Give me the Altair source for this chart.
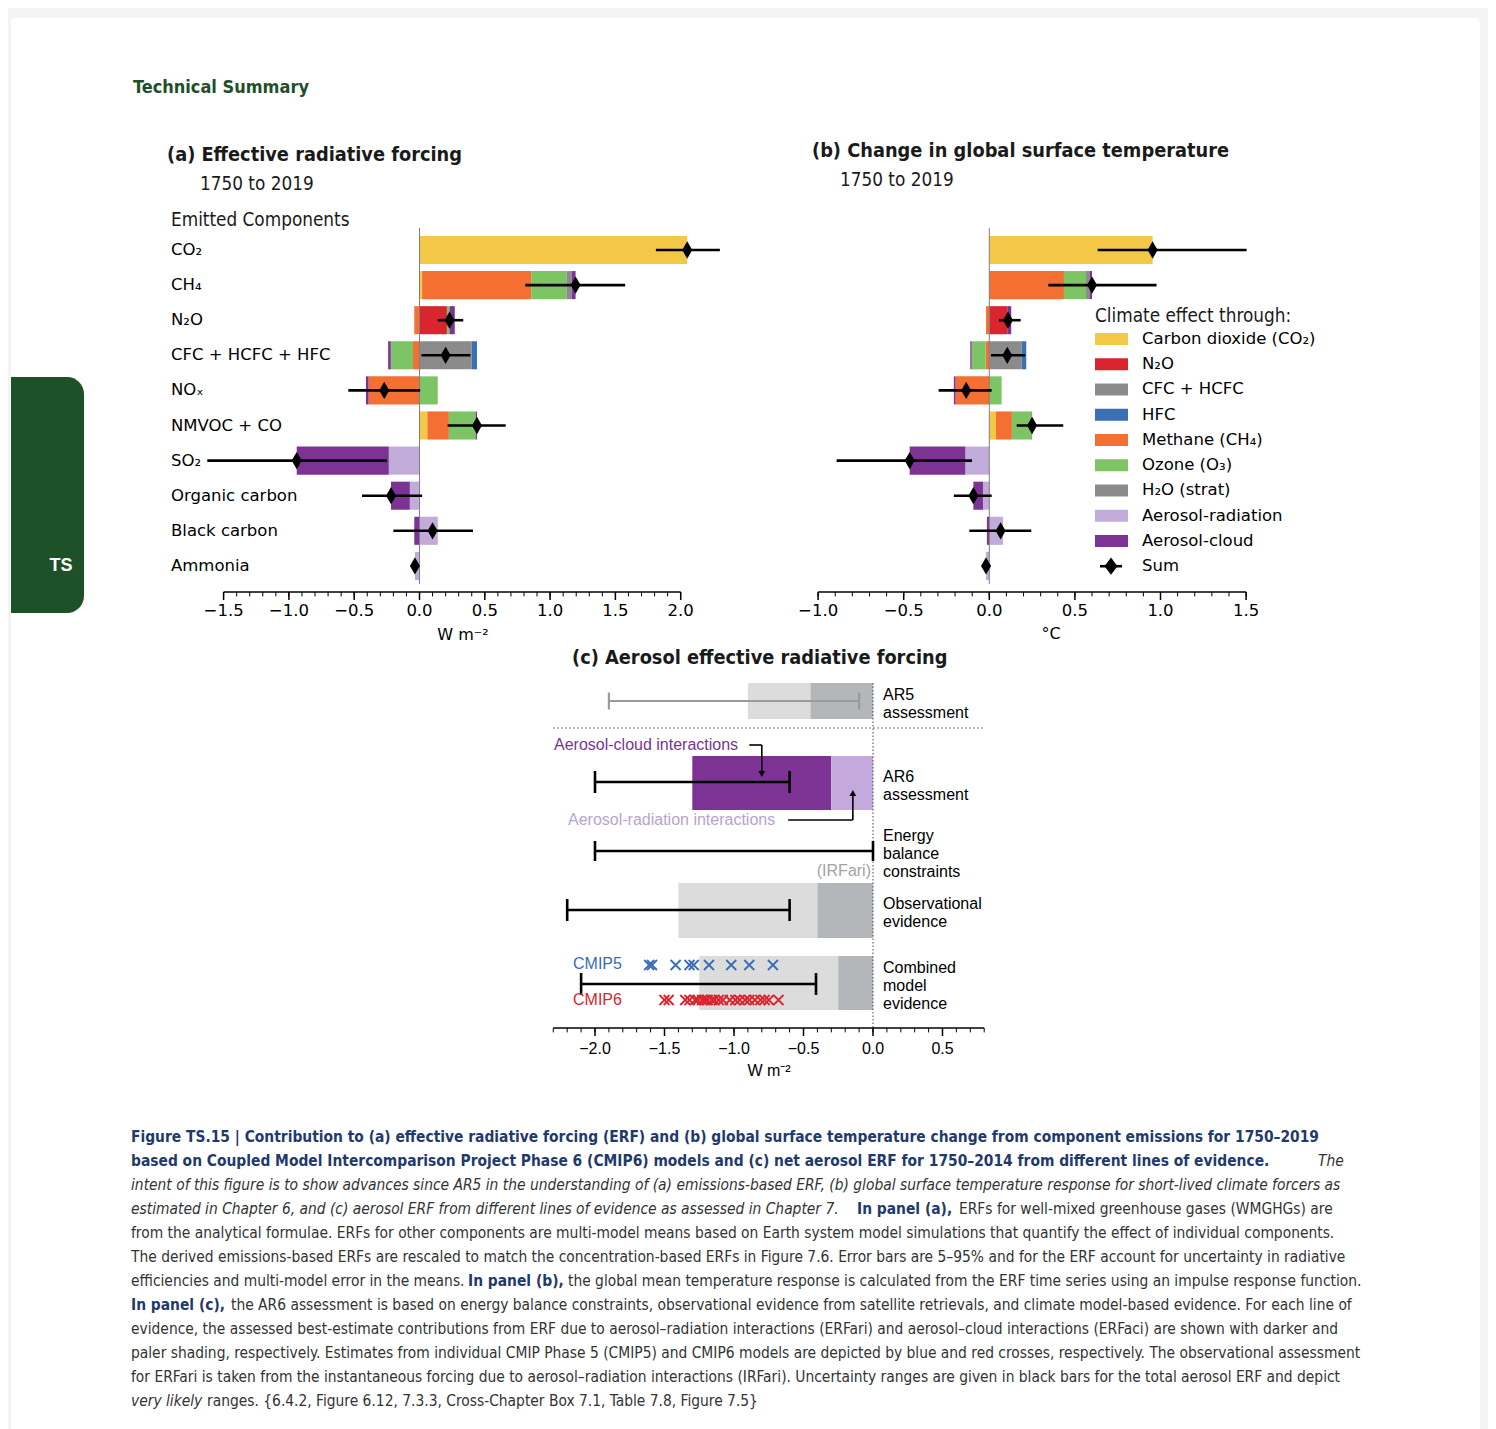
import altair as alt
import pandas as pd

W, H = 1480, 1421


def P(v):
    """page pixel -> chart pixel (8px page margin)"""
    return v - 8


NARROW = "DejaVu Sans Condensed, DejaVu Sans, sans-serif"
DEJAVU = "DejaVu Sans"
ARIAL = "Liberation Sans, Arial, sans-serif"
DIAMOND = "M0,-1L0.58,0L0,1L-0.58,0Z"
DIAMOND_LEG = "M0,-1L0.75,0L0,1L-0.75,0Z"
XCROSS = "M-1,-1L1,1M-1,1L1,-1"

# ---------------------------------------------------------------- data
rows_a = ["CO₂", "CH₄", "N₂O", "CFC + HCFC + HFC", "NOₓ", "NMVOC + CO",
          "SO₂", "Organic carbon", "Black carbon", "Ammonia"]

effects = ["Carbon dioxide (CO₂)", "N₂O", "CFC + HCFC", "HFC", "Methane (CH₄)",
           "Ozone (O₃)", "H₂O (strat)", "Aerosol-radiation", "Aerosol-cloud"]
effect_colors = ["#f3c846", "#d9252e", "#8b8b8b", "#3b6fb6", "#f36f32",
                 "#7dc465", "#8b8b8b", "#c0abd9", "#7c3393"]

# (a) ERF, W m-2, per climate effect, rows in rows_a order
erf_co2 = [2.05, 0.02, 0, 0, 0, 0.06, 0, 0, 0, 0]
erf_n2o = [0, 0, 0.21, 0, 0, 0, 0, 0, 0, 0]
erf_cfc = [0, 0, 0, 0.40, 0, 0, 0, 0, 0, 0]
erf_hfc = [0, 0, 0, 0.04, 0, 0, 0, 0, 0, 0]
erf_ch4 = [0, 0.835, -0.04, -0.05, -0.39, 0.165, 0, 0, 0, 0]
erf_o3 = [0, 0.27, 0.02, -0.17, 0.14, 0.205, 0, 0, 0, 0]
erf_h2o = [0, 0.04, 0, 0, 0, 0, 0, 0, 0, 0]
erf_ari = [0, 0, 0, 0, 0, 0, -0.235, -0.074, 0.14, -0.035]
erf_aci = [0, 0.03, 0.04, -0.02, -0.02, 0.01, -0.705, -0.144, -0.04, 0]
erf_lo = [1.81, 0.81, 0.14, 0.015, -0.545, 0.215, -1.625, -0.44, -0.20, -0.04]
erf_hi = [2.30, 1.575, 0.335, 0.39, 0.005, 0.66, -0.25, 0.02, 0.41, -0.03]

# (b) temperature change, deg C
dt_co2 = [0.954, 0, 0, 0, 0, 0.039, 0, 0, 0, 0]
dt_n2o = [0, 0, 0.105, 0, 0, 0, 0, 0, 0, 0]
dt_cfc = [0, 0, 0, 0.189, 0, 0, 0, 0, 0, 0]
dt_hfc = [0, 0, 0, 0.027, 0, 0, 0, 0, 0, 0]
dt_ch4 = [0, 0.436, -0.019, -0.021, -0.197, 0.093, 0, 0, 0, 0]
dt_o3 = [0, 0.129, 0, -0.082, 0.072, 0.115, 0, 0, 0, 0]
dt_h2o = [0, 0.023, 0, 0, 0, 0, 0, 0, 0, 0]
dt_ari = [0, 0, 0, 0, 0, 0, -0.14, -0.037, 0.08, -0.019]
dt_aci = [0, 0.012, 0.023, -0.008, -0.01, 0.003, -0.325, -0.056, -0.014, 0]
dt_lo = [0.633, 0.345, 0.056, 0.01, -0.296, 0.16, -0.892, -0.207, -0.117, -0.022]
dt_hi = [1.503, 0.977, 0.183, 0.21, 0.014, 0.432, -0.101, 0.014, 0.245, -0.012]

a_ticks = [-1.5, -1.0, -0.5, 0.0, 0.5, 1.0, 1.5, 2.0]
b_ticks = [-1.0, -0.5, 0.0, 0.5, 1.0, 1.5]
c_ticks = [-2.0, -1.5, -1.0, -0.5, 0.0, 0.5]
a_minor = [round(-1.5 + 0.1 * i, 1) for i in range(36)]
b_minor = [round(-1.0 + 0.1 * i, 1) for i in range(26)]
c_minor = [round(-2.3 + 0.1 * i, 1) for i in range(32)]

# (c) aerosol ERF
c_labels = ["AR5\nassessment", "AR6\nassessment", "Energy\nbalance\nconstraints",
            "Observational\nevidence", "Combined\nmodel\nevidence"]
c_total = [-0.9, -1.3, None, -1.4, -1.25]
c_ari = [-0.45, -0.3, None, -0.4, -0.25]
c_lo = [-1.9, -2.0, -2.0, -2.2, -2.1]
c_hi = [-0.1, -0.6, 0.0, -0.6, -0.41]
cmip5 = [-1.61, -1.59, -1.42, -1.32, -1.29, -1.18, -1.02, -0.89, -0.72]
cmip6 = [-1.50, -1.47, -1.35, -1.32, -1.28, -1.26, -1.23, -1.21, -1.19, -1.16,
         -1.14, -1.11, -1.08, -1.03, -0.99, -0.96, -0.92, -0.89, -0.85, -0.81,
         -0.78, -0.75, -0.68]

# ---------------------------------------------------------------- layout (page px)
ROW_TOP, ROW_BOT = 232.45, 583.45
AX_AB = 592
AX_C = 1028
A_ZERO, A_K = 419.5, 130.6
B_ZERO, B_K = 989.3, 171.2
C_ZERO, C_K = 873.0, 139.0
C_ROW_Y = [701, 783, 851, 910.5, 983]
C_BAR_HALF = [18, 27, 0, 27.5, 27]
C_ERR_Y = [701, 782, 851, 910, 984]
C_CAP_HALF = [8.5, 11, 10, 11, 11]
C_LABEL_Y = [695, 777, 836, 904, 968]   # first line of each label
CMIP_Y = [965, 1000]

one = pd.DataFrame({"d": [0]})


def fmt(v):
    return f"{v:.1f}".replace("-", "−")


def texts(rows, font, size, color, weight="normal", style="normal", align="left",
          baseline="middle", **kw):
    df = pd.DataFrame([{"px": P(x), "py": P(y), "txt": t} for (x, y, t) in rows])
    return alt.Chart(df).mark_text(
        font=font, fontSize=size, color=color, fontWeight=weight, fontStyle=style,
        align=align, baseline=baseline, **kw
    ).encode(
        x=alt.X("px:Q", scale=None, axis=None),
        y=alt.Y("py:Q", scale=None, axis=None),
        text="txt:N",
    )


def x_axis_layers(xs, ticks, minor, ax_y, xmin, xmax, font, size, tick_len, lab_gap):
    """axis line, major/minor ticks and tick labels drawn through the panel's x scale"""
    dom = alt.Chart(pd.DataFrame({"a": [xmin], "b": [xmax]})).mark_rule(
        color="black", strokeWidth=1.5).encode(
        x=alt.X("a:Q", scale=xs, axis=None), x2="b:Q", y=alt.value(P(ax_y)))
    tk = pd.DataFrame({"t": ticks, "lab": [fmt(v) for v in ticks]})
    maj = alt.Chart(tk).mark_rule(color="black", strokeWidth=1.5).encode(
        x=alt.X("t:Q", scale=xs, axis=None), y=alt.value(P(ax_y)),
        y2=alt.value(P(ax_y) + tick_len))
    mnr = alt.Chart(pd.DataFrame({"t": minor})).mark_rule(color="black", strokeWidth=1).encode(
        x=alt.X("t:Q", scale=xs, axis=None), y=alt.value(P(ax_y)),
        y2=alt.value(P(ax_y) + tick_len * 0.55))
    lab = alt.Chart(tk).mark_text(font=font, fontSize=size, color="black", align="center",
                                  baseline="top").encode(
        x=alt.X("t:Q", scale=xs, axis=None), y=alt.value(P(ax_y) + tick_len + lab_gap),
        text="lab:N")
    return [dom, maj, mnr, lab]


def stack_df(comps):
    recs = []
    for i, row in enumerate(rows_a):
        pos, neg = 0.0, 0.0
        for j, eff in enumerate(effects):
            v = comps[j][i]
            if v > 0:
                recs.append(dict(row=row, eff=eff, x0=pos, x1=pos + v, color=effect_colors[j]))
                pos += v
            elif v < 0:
                recs.append(dict(row=row, eff=eff, x0=neg, x1=neg + v, color=effect_colors[j]))
                neg += v
    return pd.DataFrame(recs)


def forcing_panel(comps, lo, hi, zero_px, k, xmin, xmax, major, minor, with_labels):
    xs = alt.Scale(domain=[xmin, xmax], range=[P(zero_px + xmin * k), P(zero_px + xmax * k)],
                   nice=False, zero=False)
    ys = alt.Scale(domain=rows_a, range=[P(ROW_TOP), P(ROW_BOT)], paddingInner=0.2,
                   paddingOuter=0.1)
    seg = stack_df(comps)
    tot = [sum(c[i] for c in comps) for i in range(len(rows_a))]
    summ = pd.DataFrame({"row": rows_a, "s": tot, "lo": lo, "hi": hi})
    bars = alt.Chart(seg).mark_bar(strokeWidth=0).encode(
        x=alt.X("x0:Q", scale=xs, axis=None),
        x2="x1:Q",
        y=alt.Y("row:N", scale=ys, axis=None),
        color=alt.Color("color:N", scale=None),
    )
    zero = alt.Chart(pd.DataFrame({"z": [0.0]})).mark_rule(color="#7f7f7f", strokeWidth=1).encode(
        x=alt.X("z:Q", scale=xs, axis=None), y=alt.value(P(228)), y2=alt.value(P(584)))
    err = alt.Chart(summ).mark_rule(color="black", strokeWidth=2.6).encode(
        x=alt.X("lo:Q", scale=xs, axis=None), x2="hi:Q",
        y=alt.Y("row:N", scale=ys, axis=None))
    dia = alt.Chart(summ).mark_point(shape=DIAMOND, filled=True, size=300, color="black",
                                     opacity=1, strokeWidth=0).encode(
        x=alt.X("s:Q", scale=xs, axis=None), y=alt.Y("row:N", scale=ys, axis=None))
    layers = [bars, zero, err, dia] + x_axis_layers(xs, major, minor, AX_AB, xmin, xmax,
                                                    DEJAVU, 16.5, 8, 2.5)
    if with_labels:
        lab = alt.Chart(pd.DataFrame({"row": rows_a})).mark_text(
            align="left", baseline="middle", font=DEJAVU, fontSize=16.5, color="black").encode(
            x=alt.value(P(171)), y=alt.Y("row:N", scale=ys, axis=None), text="row:N")
        layers.append(lab)
    return alt.layer(*layers)


panel_a = forcing_panel([erf_co2, erf_n2o, erf_cfc, erf_hfc, erf_ch4, erf_o3, erf_h2o, erf_ari, erf_aci],
                        erf_lo, erf_hi, A_ZERO, A_K, -1.5, 2.0, a_ticks, a_minor, True)
panel_b = forcing_panel([dt_co2, dt_n2o, dt_cfc, dt_hfc, dt_ch4, dt_o3, dt_h2o, dt_ari, dt_aci],
                        dt_lo, dt_hi, B_ZERO, B_K, -1.0, 1.5, b_ticks, b_minor, False)

# ---------------- legend of (b)
leg_items = effects + ["Sum"]
ys_leg = alt.Scale(domain=leg_items, range=[P(333.0), P(572.2)], paddingInner=0.525, paddingOuter=0)
leg_sw = alt.Chart(pd.DataFrame({"item": effects, "color": effect_colors})).mark_rect().encode(
    x=alt.value(P(1095)), x2=alt.value(P(1128)),
    y=alt.Y("item:N", scale=ys_leg, axis=None), color=alt.Color("color:N", scale=None))
leg_tx = alt.Chart(pd.DataFrame({"item": leg_items})).mark_text(
    align="left", baseline="middle", font=DEJAVU, fontSize=16.5, color="black").encode(
    x=alt.value(P(1142)), y=alt.Y("item:N", scale=ys_leg, axis=None), text="item:N")
leg_sum_line = alt.Chart(pd.DataFrame({"item": ["Sum"]})).mark_rule(color="black", strokeWidth=2.6).encode(
    x=alt.value(P(1100)), x2=alt.value(P(1122)), y=alt.Y("item:N", scale=ys_leg, axis=None))
leg_sum_dia = alt.Chart(pd.DataFrame({"item": ["Sum"]})).mark_point(
    shape=DIAMOND_LEG, filled=True, size=300, color="black", opacity=1, strokeWidth=0).encode(
    x=alt.value(P(1111)), y=alt.Y("item:N", scale=ys_leg, axis=None))
legend_b = alt.layer(leg_sw, leg_tx, leg_sum_line, leg_sum_dia)

# ---------------- panel (c)
xs_c = alt.Scale(domain=[-2.3, 0.8], range=[P(C_ZERO - 2.3 * C_K), P(C_ZERO + 0.8 * C_K)],
                 nice=False, zero=False)
ys_c = alt.Scale(domain=[600, 1100], range=[P(600), P(1100)], nice=False, zero=False)
LG, DG = "#dcdcdc", "#b4b7b9"
PUR, LPUR = "#7c3393", "#c3a9dc"

rects = []
for i in range(len(c_labels)):
    if c_total[i] is None:
        continue
    c1, c2 = (PUR, LPUR) if i == 1 else (LG, DG)
    y0, y1 = C_ROW_Y[i] - C_BAR_HALF[i], C_ROW_Y[i] + C_BAR_HALF[i]
    rects.append(dict(x0=c_total[i], x1=c_ari[i], y0=y0, y1=y1, color=c1))
    rects.append(dict(x0=c_ari[i], x1=0.0, y0=y0, y1=y1, color=c2))
rects = pd.DataFrame(rects)

errs, caps = [], []
for i in range(len(c_labels)):
    col = "#9a9a9a" if i == 0 else "black"
    w = 2.2 if i == 0 else 2.6
    errs.append(dict(lo=c_lo[i], hi=c_hi[i], y=C_ERR_Y[i], color=col, w=w))
    for xv in (c_lo[i], c_hi[i]):
        caps.append(dict(x=xv, y0=C_ERR_Y[i] - C_CAP_HALF[i], y1=C_ERR_Y[i] + C_CAP_HALF[i], color=col, w=w))
errs, caps = pd.DataFrame(errs), pd.DataFrame(caps)

crosses = pd.DataFrame(
    [dict(x=v, y=CMIP_Y[0], color="#3b6cb4") for v in cmip5]
    + [dict(x=v, y=CMIP_Y[1], color="#d8262f") for v in cmip6])

arrows = pd.DataFrame([
    dict(x0=-0.89, x1=-0.80, y0=745, y1=745),
    dict(x0=-0.80, x1=-0.80, y0=745, y1=771),
    dict(x0=-0.61, x1=-0.145, y0=820, y1=820),
    dict(x0=-0.145, x1=-0.145, y0=820, y1=796),
])
heads = pd.DataFrame([dict(x=-0.80, y=774, shape="triangle-down"),
                      dict(x=-0.145, y=793, shape="triangle-up")])

c_bars = alt.Chart(rects).mark_rect(strokeWidth=0).encode(
    x=alt.X("x0:Q", scale=xs_c, axis=None),
    x2="x1:Q",
    y=alt.Y("y0:Q", scale=ys_c, axis=None), y2="y1:Q",
    color=alt.Color("color:N", scale=None))
c_zero = alt.Chart(pd.DataFrame({"z": [0.0]})).mark_rule(
    color="#444444", strokeWidth=1, strokeDash=[1.5, 2]).encode(
    x=alt.X("z:Q", scale=xs_c, axis=None), y=alt.value(P(683)), y2=alt.value(P(AX_C)))
c_sep = alt.Chart(pd.DataFrame({"a": [-2.3], "b": [0.8]})).mark_rule(
    color="#444444", strokeWidth=1, strokeDash=[1.5, 2.5]).encode(
    x=alt.X("a:Q", scale=xs_c, axis=None), x2="b:Q", y=alt.value(P(728)))
c_err = alt.Chart(errs).mark_rule().encode(
    x=alt.X("lo:Q", scale=xs_c, axis=None), x2="hi:Q",
    y=alt.Y("y:Q", scale=ys_c, axis=None),
    color=alt.Color("color:N", scale=None), strokeWidth=alt.StrokeWidth("w:Q", scale=None))
c_caps = alt.Chart(caps).mark_rule().encode(
    x=alt.X("x:Q", scale=xs_c, axis=None),
    y=alt.Y("y0:Q", scale=ys_c, axis=None), y2="y1:Q",
    color=alt.Color("color:N", scale=None), strokeWidth=alt.StrokeWidth("w:Q", scale=None))
c_cross = alt.Chart(crosses).mark_point(shape=XCROSS, filled=False, size=100, strokeWidth=1.8,
                                        opacity=1).encode(
    x=alt.X("x:Q", scale=xs_c, axis=None), y=alt.Y("y:Q", scale=ys_c, axis=None),
    color=alt.Color("color:N", scale=None))
c_arr = alt.Chart(arrows).mark_rule(color="black", strokeWidth=1.6).encode(
    x=alt.X("x0:Q", scale=xs_c, axis=None), x2="x1:Q",
    y=alt.Y("y0:Q", scale=ys_c, axis=None), y2="y1:Q")
c_heads = alt.Chart(heads).mark_point(filled=True, size=45, color="black", opacity=1).encode(
    x=alt.X("x:Q", scale=xs_c, axis=None), y=alt.Y("y:Q", scale=ys_c, axis=None),
    shape=alt.Shape("shape:N", scale=None))
panel_c = alt.layer(c_bars, c_zero, c_sep, c_err, c_caps, c_cross, c_arr, c_heads,
                    *x_axis_layers(xs_c, c_ticks, c_minor, AX_C, -2.3, 0.8, ARIAL, 16, 8, 4.5))

c_lab = texts([(883, y, t) for y, t in zip(C_LABEL_Y, c_labels)], ARIAL, 16, "black",
              lineBreak="\n", lineHeight=17.8)

# ---------------- decorations & text
card = alt.Chart(one).mark_rect(color="white", cornerRadius=4).encode(
    x=alt.value(P(11)), x2=alt.value(P(1480)), y=alt.value(P(18)), y2=alt.value(H + 20))
tab = alt.Chart(one).mark_rect(color="#1e5128", cornerRadiusTopRight=17,
                               cornerRadiusBottomRight=17).encode(
    x=alt.value(P(11)), x2=alt.value(P(84)), y=alt.value(P(377)), y2=alt.value(P(613)))
ts = texts([(61, 566, "TS")], ARIAL, 18, "white", weight="bold", align="center")
header = texts([(133, 88, "Technical Summary")], NARROW, 18, "#1f4f2a", weight="bold")

titles_bold = texts([(167, 155, "(a) Effective radiative forcing"),
                     (812, 151, "(b) Change in global surface temperature"),
                     (572, 658, "(c) Aerosol effective radiative forcing")],
                    NARROW, 19.8, "#1a1a1a", weight="bold")
titles_norm = texts([(200, 184, "1750 to 2019"), (840, 180, "1750 to 2019"),
                     (171, 220, "Emitted Components"), (1095, 316, "Climate effect through:")],
                    NARROW, 18.8, "#1a1a1a")
units_dv = texts([(463, 635, "W m⁻²"), (1051, 634, "°C")], DEJAVU, 16, "black", align="center")
units_c = texts([(769, 1071, "W m⁻²")], ARIAL, 16, "black", align="center")
ann_cloud = texts([(554, 745, "Aerosol-cloud interactions")], ARIAL, 16, "#7c3393")
ann_rad = texts([(568, 820, "Aerosol-radiation interactions")], ARIAL, 16, "#b5a5cb")
ann_irf = texts([(871, 871, "(IRFari)")], ARIAL, 16, "#a3a3a3", align="right")
cmip5_t = texts([(573, 964, "CMIP5")], ARIAL, 16, "#3b6cb4")
cmip6_t = texts([(573, 1000, "CMIP6")], ARIAL, 16, "#d8262f")

# ---------------- caption
caption = [
    [("b", 131, "Figure TS.15 | Contribution to (a) effective radiative forcing (ERF) and (b) global surface temperature change from component emissions for 1750–2019")],
    [("b", 131, "based on Coupled Model Intercomparison Project Phase 6 (CMIP6) models and (c) net aerosol ERF for 1750–2014 from different lines of evidence."),
     ("i", 1318, "The")],
    [("i", 131, "intent of this figure is to show advances since AR5 in the understanding of (a) emissions-based ERF, (b) global surface temperature response for short-lived climate forcers as")],
    [("i", 131, "estimated in Chapter 6, and (c) aerosol ERF from different lines of evidence as assessed in Chapter 7."),
     ("b", 857, "In panel (a),"), ("n", 959, "ERFs for well-mixed greenhouse gases (WMGHGs) are")],
    [("n", 131, "from the analytical formulae. ERFs for other components are multi-model means based on Earth system model simulations that quantify the effect of individual components.")],
    [("n", 131, "The derived emissions-based ERFs are rescaled to match the concentration-based ERFs in Figure 7.6. Error bars are 5–95% and for the ERF account for uncertainty in radiative")],
    [("n", 131, "efficiencies and multi-model error in the means."), ("b", 468, "In panel (b),"),
     ("n", 568, "the global mean temperature response is calculated from the ERF time series using an impulse response function.")],
    [("b", 131, "In panel (c),"),
     ("n", 231, "the AR6 assessment is based on energy balance constraints, observational evidence from satellite retrievals, and climate model-based evidence. For each line of")],
    [("n", 131, "evidence, the assessed best-estimate contributions from ERF due to aerosol–radiation interactions (ERFari) and aerosol–cloud interactions (ERFaci) are shown with darker and")],
    [("n", 131, "paler shading, respectively. Estimates from individual CMIP Phase 5 (CMIP5) and CMIP6 models are depicted by blue and red crosses, respectively. The observational assessment")],
    [("n", 131, "for ERFari is taken from the instantaneous forcing due to aerosol–radiation interactions (IRFari). Uncertainty ranges are given in black bars for the total aerosol ERF and depict")],
    [("i", 131, "very likely"), ("n", 207, "ranges. {6.4.2, Figure 6.12, 7.3.3, Cross-Chapter Box 7.1, Table 7.8, Figure 7.5}")],
]
CAP_Y0, CAP_DY, CAP_FS = 1137, 24, 15.4
cap_rows = {"b": [], "i": [], "n": []}
for li, segs in enumerate(caption):
    for style, x, t in segs:
        cap_rows[style].append((x, CAP_Y0 + CAP_DY * li, t))
cap_b = texts(cap_rows["b"], NARROW, CAP_FS, "#1f3a6b", weight="bold")
cap_i = texts(cap_rows["i"], NARROW, CAP_FS, "#333333", style="italic")
cap_n = texts(cap_rows["n"], NARROW, CAP_FS, "#333333")

chart = alt.layer(
    card, tab, ts, header,
    panel_a, panel_b, legend_b, panel_c,
    c_lab, titles_bold, titles_norm, units_dv, units_c,
    ann_cloud, ann_rad, ann_irf, cmip5_t, cmip6_t,
    cap_b, cap_i, cap_n,
).resolve_scale(x="independent", y="independent").properties(
    width=W, height=H, autosize=alt.AutoSizeParams(type="none"), padding=0,
    background="#f4f4f4",
).configure_view(stroke=None)

chart.save("out.html", embed_options={"renderer": "svg", "actions": False})
